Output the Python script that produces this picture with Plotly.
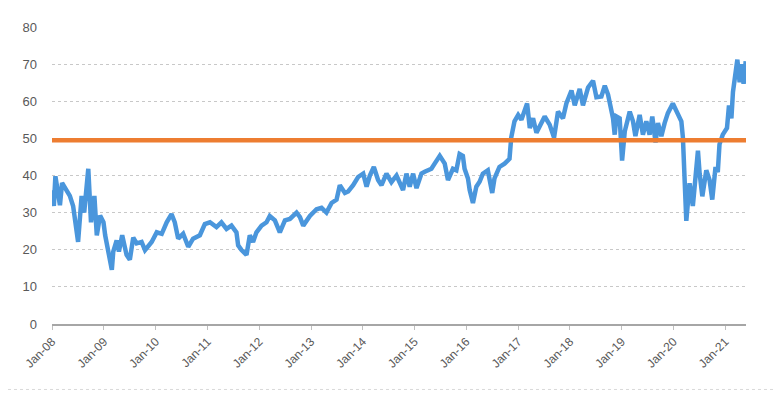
import plotly.graph_objects as go

dates = [
    "2008-01-02", "2008-01-14", "2008-01-25", "2008-02-26", "2008-03-12", "2008-04-12",
    "2008-05-06", "2008-05-29", "2008-07-03", "2008-07-28", "2008-08-15", "2008-09-13",
    "2008-10-02", "2008-10-26", "2008-11-12", "2008-12-05", "2008-12-29", "2009-01-10",
    "2009-02-02", "2009-02-26", "2009-03-08", "2009-04-01", "2009-04-17", "2009-05-10",
    "2009-06-10", "2009-07-03", "2009-07-27", "2009-08-20", "2009-09-24", "2009-10-18",
    "2009-12-04", "2010-01-09", "2010-02-13", "2010-03-20", "2010-04-23", "2010-05-16",
    "2010-06-09", "2010-07-14", "2010-08-19", "2010-09-22", "2010-11-09", "2010-12-14",
    "2011-01-19", "2011-03-06", "2011-04-10", "2011-05-16", "2011-06-20", "2011-07-25",
    "2011-08-06", "2011-08-30", "2011-10-04", "2011-10-27", "2011-11-19", "2011-12-13",
    "2012-01-18", "2012-02-22", "2012-03-16", "2012-04-21", "2012-05-26", "2012-07-01",
    "2012-08-05", "2012-09-21", "2012-10-15", "2012-11-07", "2012-12-24", "2013-02-09",
    "2013-03-16", "2013-04-20", "2013-05-26", "2013-06-30", "2013-07-23", "2013-08-28",
    "2013-09-20", "2013-10-25", "2013-11-29", "2014-01-04", "2014-01-28", "2014-02-20",
    "2014-03-20", "2014-04-19", "2014-05-13", "2014-06-17", "2014-07-22", "2014-08-27",
    "2014-10-12", "2014-11-05", "2014-11-28", "2014-12-22", "2015-01-15", "2015-02-19",
    "2015-03-14", "2015-04-30", "2015-05-23", "2015-06-28", "2015-08-02", "2015-08-25",
    "2015-09-29", "2015-10-23", "2015-11-15", "2015-12-08", "2015-12-20", "2016-01-13",
    "2016-01-25", "2016-02-17", "2016-03-12", "2016-04-04", "2016-04-27", "2016-06-01",
    "2016-07-02", "2016-07-18", "2016-08-22", "2016-09-27", "2016-11-01", "2016-11-13",
    "2016-12-06", "2017-01-01", "2017-01-24", "2017-02-16", "2017-03-05", "2017-03-24",
    "2017-04-16", "2017-05-10", "2017-06-14", "2017-07-07", "2017-08-11", "2017-09-11",
    "2017-10-09", "2017-11-13", "2017-12-07", "2018-01-12", "2018-02-04", "2018-03-11",
    "2018-04-03", "2018-05-09", "2018-06-13", "2018-07-07", "2018-08-11", "2018-09-04",
    "2018-09-27", "2018-10-16", "2018-11-01", "2018-11-13", "2018-11-25", "2018-12-18",
    "2019-01-04", "2019-01-23", "2019-02-27", "2019-03-22", "2019-04-08", "2019-05-08",
    "2019-05-31", "2019-06-24", "2019-07-17", "2019-08-05", "2019-08-28", "2019-09-14",
    "2019-10-08", "2019-10-31", "2019-11-23", "2019-12-28", "2020-01-22", "2020-02-26",
    "2020-03-08", "2020-03-20", "2020-04-01", "2020-04-24", "2020-05-17", "2020-06-05",
    "2020-06-22", "2020-07-04", "2020-07-23", "2020-08-20", "2020-09-12", "2020-10-01",
    "2020-10-24", "2020-11-09", "2020-11-21", "2020-12-14", "2021-01-13", "2021-01-27",
    "2021-02-13", "2021-02-24", "2021-03-15", "2021-03-27", "2021-04-12", "2021-04-24",
    "2021-05-10", "2021-05-25",
]

values = [
    36.0, 31.8, 39.8, 32.0, 38.0, 36.0,
    34.5, 31.8, 22.1, 34.5, 30.0, 41.8,
    27.4, 34.5, 23.9, 29.2, 27.4, 23.9,
    18.6, 14.6, 19.5, 22.5, 19.5, 23.9,
    18.6, 17.3, 23.3, 21.7, 22.1, 19.9,
    22.1, 24.7, 24.3, 27.4, 29.6, 27.4,
    23.0, 24.3, 20.8, 23.0, 23.9, 26.9,
    27.4, 26.1, 27.4, 25.6, 26.5, 24.7,
    21.2, 19.9, 18.6, 23.9, 22.1, 24.7,
    26.5, 27.4, 29.1, 27.9, 24.7, 27.9,
    28.3, 30.0, 28.8, 26.5, 29.1, 30.9,
    31.3, 30.0, 32.6, 33.5, 37.4, 35.3,
    35.7, 37.4, 39.6, 40.5, 37.0, 40.0,
    42.3, 38.8, 37.4, 40.5, 38.2, 40.0,
    36.1, 40.5, 37.0, 40.5, 36.6, 40.5,
    41.0, 41.8, 43.2, 45.3, 43.2, 38.8,
    41.8, 41.4, 45.8, 45.3, 41.8, 39.2,
    36.1, 32.6, 37.0, 38.3, 40.5, 41.4,
    35.3, 39.2, 42.3, 43.2, 44.5, 50.2,
    54.6, 56.3, 55.0, 57.6, 59.4, 52.8,
    55.4, 51.5, 54.6, 55.9, 53.7, 50.2,
    57.2, 55.4, 59.4, 62.9, 58.9, 63.3,
    58.9, 63.7, 65.5, 61.1, 61.3, 64.2,
    61.8, 58.1, 55.4, 51.0, 55.9, 55.4,
    44.0, 51.9, 57.2, 54.6, 50.6, 56.3,
    51.0, 54.6, 51.0, 55.9, 48.9, 54.1,
    50.6, 54.1, 56.8, 59.4, 57.2, 54.6,
    50.2, 35.3, 27.8, 37.9, 31.8, 39.6,
    46.7, 40.5, 34.4, 41.4, 38.8, 33.5,
    42.3, 40.9, 48.4, 51.0, 52.8, 58.9,
    55.4, 62.5, 67.7, 71.2, 65.1, 70.0,
    64.7, 70.8,
]

level_dates = ["2008-01-01", "2021-05-27"]
level_values = [49.5, 49.5]

tick_dates = ["%d-01-01" % y for y in range(2008, 2022)]
tick_labels = ["Jan-%02d" % (y % 100) for y in range(2008, 2022)]
y_ticks = [0, 10, 20, 30, 40, 50, 60, 70, 80]

fig = go.Figure()
fig.add_trace(go.Scatter(x=dates, y=values, mode="lines",
                         line=dict(color="#4A96DC", width=4.5), showlegend=False))
fig.add_trace(go.Scatter(x=level_dates, y=level_values, mode="lines",
                         line=dict(color="#ED7D31", width=4.5), showlegend=False))

# page body has an 8px margin, so the figure sits at (8, 8) in the window
fig.update_layout(
    width=773, height=385,
    margin=dict(l=44, r=35, t=12, b=69),
    paper_bgcolor="white", plot_bgcolor="white",
    font=dict(family="Liberation Sans", size=12, color="#595959"),
    xaxis=dict(
        range=["2008-01-01", "2021-05-27"],
        tickvals=tick_dates, ticktext=tick_labels, tickangle=-45,
        showgrid=False, showline=True, linecolor="#A6A6A6", linewidth=2,
        ticks="outside", ticklen=4, tickcolor="#BFBFBF",
        tickfont=dict(size=12, color="#595959"),
        zeroline=False,
    ),
    yaxis=dict(
        range=[0, 80], tickvals=y_ticks,
        showgrid=True, gridcolor="#C8C8C8", griddash="dot", gridwidth=1,
        zeroline=False, showline=False,
        tickfont=dict(size=13, color="#595959"),
        ticklabelstandoff=14,
    ),
    shapes=[
        dict(type="line", xref="paper", yref="paper",
             x0=1.0476, x1=1.0476, y0=-0.2204, y1=1.04,
             line=dict(color="#D9D9D9", width=1)),
        dict(type="line", xref="paper", yref="paper",
             x0=-0.0634, x1=1.0476, y0=-0.2204, y1=-0.2204,
             line=dict(color="#D9D9D9", width=1, dash="dot")),
    ],
)

fig.write_html("out.html")
